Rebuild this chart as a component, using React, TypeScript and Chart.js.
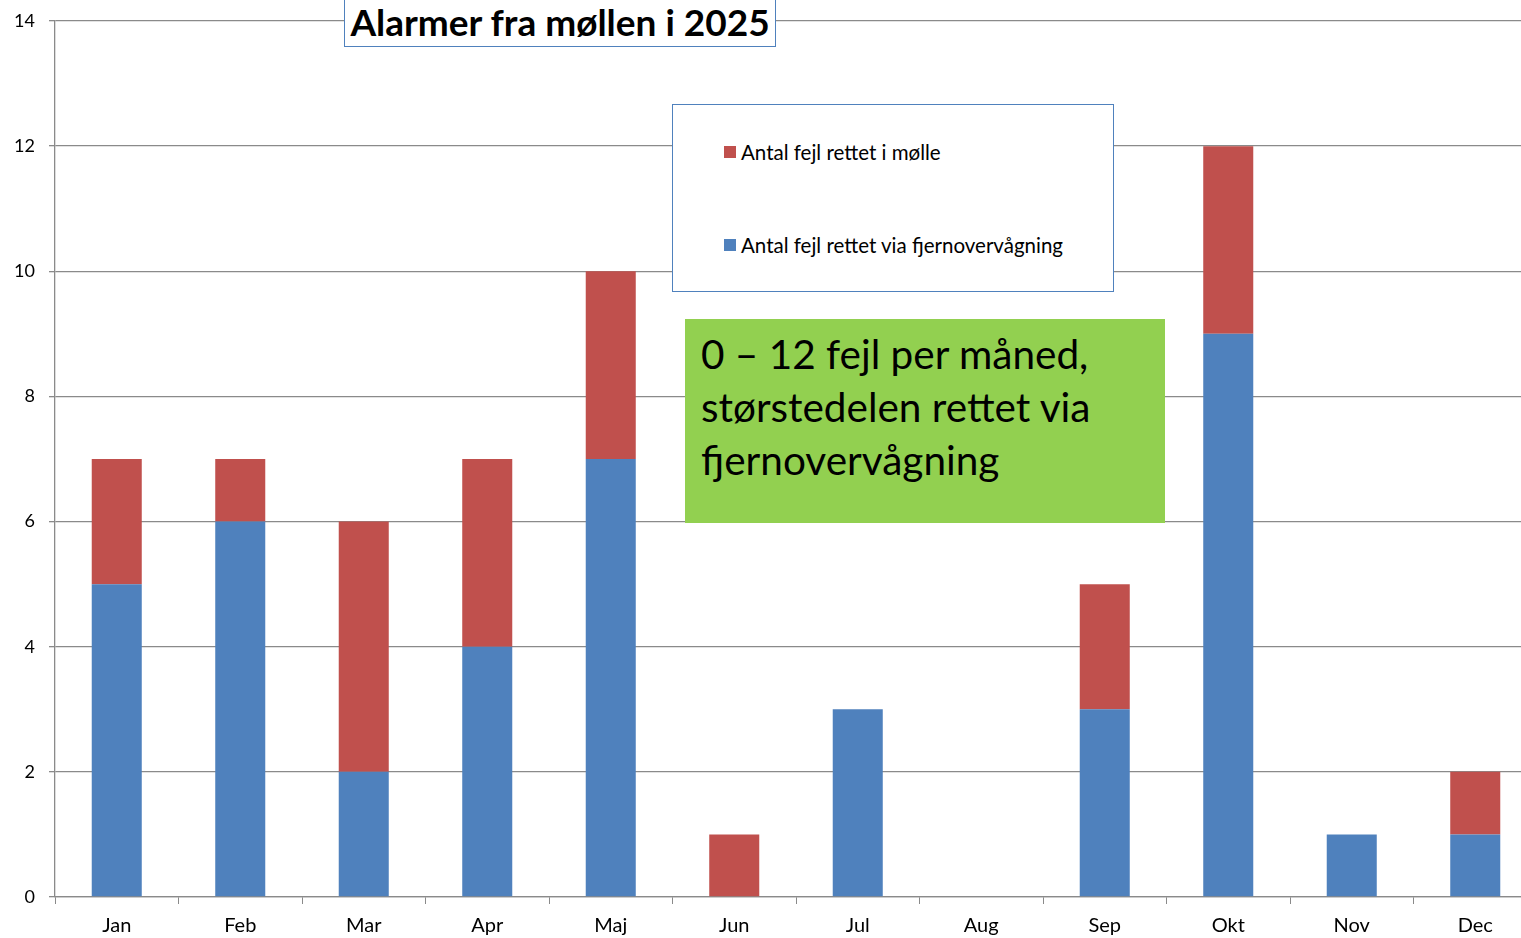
import React, { useEffect, useRef } from "react";
import { Chart, registerables } from "chart.js";

Chart.register(...registerables);

const months = ["Jan", "Feb", "Mar", "Apr", "Maj", "Jun", "Jul", "Aug", "Sep", "Okt", "Nov", "Dec"];
const remoteFixed = [5, 6, 2, 4, 7, 0, 3, 0, 3, 9, 1, 1];
const millFixed = [2, 1, 4, 3, 3, 1, 0, 0, 2, 3, 0, 1];
const yTicks = [0, 2, 4, 6, 8, 10, 12, 14];
const titleText = "Alarmer fra møllen i 2025";
const legendMill = "Antal fejl rettet i mølle";
const legendRemote = "Antal fejl rettet via fjernovervågning";
const noteLines = ["0 – 12 fejl per måned,", "størstedelen rettet via", "fjernovervågning"];

const BLUE = "#4F81BD";
const RED = "#C0504D";
const GRID = "#8a8a8a";
const FONT = "Lato, 'Open Sans', sans-serif";

export default function App() {
  const ref = useRef<HTMLCanvasElement | null>(null);

  useEffect(() => {
    document.body.style.margin = "0";
    const canvas = ref.current;
    if (!canvas) return;
    const chart = new Chart(canvas, {
      type: "bar",
      data: {
        labels: months,
        datasets: [
          {
            label: legendRemote,
            data: remoteFixed,
            backgroundColor: BLUE,
            barPercentage: 0.405,
            categoryPercentage: 1,
          },
          {
            label: legendMill,
            data: millFixed,
            backgroundColor: RED,
            barPercentage: 0.405,
            categoryPercentage: 1,
          },
        ],
      },
      options: {
        animation: false,
        responsive: false,
        maintainAspectRatio: false,
        layout: { padding: { top: 21, right: 8, left: 0, bottom: 0 } },
        plugins: {
          legend: { display: false },
          title: { display: false },
          tooltip: { enabled: false },
        },
        scales: {
          x: {
            stacked: true,
            afterFit: (s: any) => {
              s.height = 41;
              s.paddingLeft = 0;
              s.paddingRight = 0;
            },
            grid: {
              display: true,
              drawOnChartArea: false,
              drawTicks: true,
              tickLength: 7,
              color: GRID,
              lineWidth: 1,
            },
            border: { display: true, color: GRID, width: 1.3 },
            ticks: {
              color: "#000",
              font: { family: FONT, size: 20 },
              padding: 10,
              maxRotation: 0,
            },
          },
          y: {
            stacked: true,
            min: 0,
            max: 14,
            afterFit: (s: any) => {
              s.width = 55;
              s.paddingTop = 0;
              s.paddingBottom = 0;
            },
            afterBuildTicks: (s: any) => {
              s.ticks = yTicks.map((v) => ({ value: v }));
            },
            grid: {
              color: GRID,
              lineWidth: 1.3,
              tickLength: 6,
              drawTicks: true,
            },
            border: { display: true, color: GRID, width: 1.3 },
            ticks: {
              color: "#000",
              font: { family: FONT, size: 18 },
              padding: 14,
            },
          },
        },
      },
    });
    return () => chart.destroy();
  }, []);

  return (
    <div
      style={{
        position: "fixed",
        left: 0,
        top: 0,
        width: 1521,
        height: 938,
        overflow: "hidden",
        background: "#fff",
        fontFamily: FONT,
      }}
    >
      <canvas ref={ref} width={1545} height={938} style={{ position: "absolute", left: 0, top: 0, width: 1545, height: 938 }} />
      <div
        style={{
          position: "absolute",
          left: 344,
          top: -10,
          width: 432,
          height: 57,
          border: `1.5px solid ${BLUE}`,
          background: "#fff",
          boxSizing: "border-box",
          display: "flex",
          alignItems: "flex-end",
          justifyContent: "center",
          paddingBottom: 2,
          fontWeight: 700,
          fontSize: 37,
          lineHeight: "44px",
          color: "#000",
          whiteSpace: "nowrap",
        }}
      >
        {titleText}
      </div>
      <div
        style={{
          position: "absolute",
          left: 672,
          top: 104,
          width: 442,
          height: 188,
          border: `1.5px solid ${BLUE}`,
          background: "#fff",
          boxSizing: "border-box",
          fontSize: 20.5,
          color: "#000",
        }}
      >
        {[
          { c: RED, t: legendMill, y: 35 },
          { c: BLUE, t: legendRemote, y: 128 },
        ].map((it) => (
          <div
            key={it.t}
            style={{
              position: "absolute",
              left: 51,
              top: it.y,
              display: "flex",
              alignItems: "center",
              whiteSpace: "nowrap",
              lineHeight: "24px",
            }}
          >
            <span style={{ width: 12, height: 12, background: it.c, display: "inline-block", marginRight: 5 }} />
            {it.t}
          </div>
        ))}
      </div>
      <div
        style={{
          position: "absolute",
          left: 685,
          top: 319,
          width: 480,
          height: 204,
          background: "#92D050",
          boxSizing: "border-box",
          padding: "8px 0 0 16px",
          fontSize: 40.5,
          lineHeight: "53px",
          color: "#000",
          whiteSpace: "nowrap",
        }}
      >
        {noteLines.map((l) => (
          <div key={l}>{l}</div>
        ))}
      </div>
    </div>
  );
}
